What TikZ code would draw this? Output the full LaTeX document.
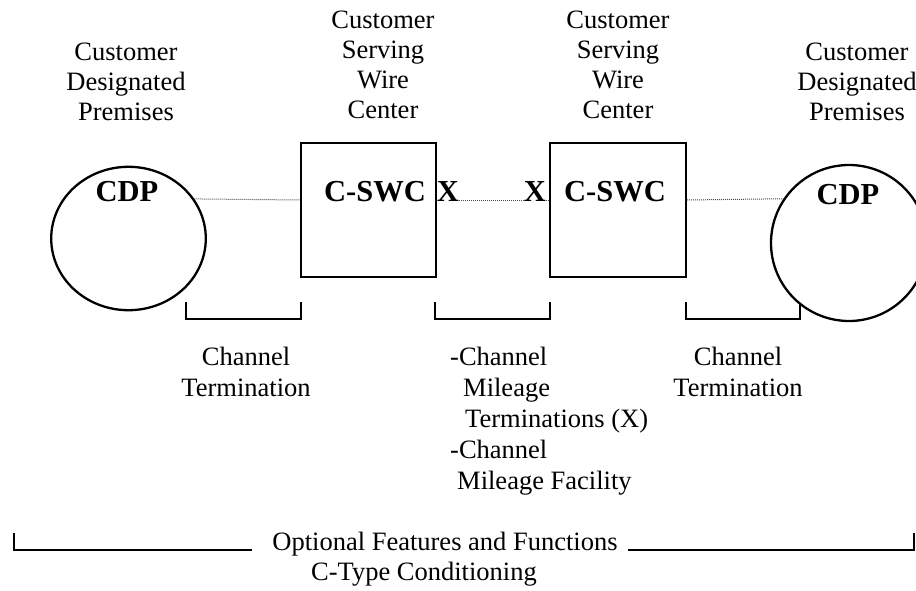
\documentclass[tikz,border=0pt]{standalone}
\usepackage{fontspec}
\setmainfont{Liberation Serif}
\usetikzlibrary{shapes.geometric}

\tikzset{
  txt/.style={font=\fontsize{26.5}{30}\selectfont,align=center,inner sep=0},
  lbl/.style={font=\fontsize{26.5}{31}\selectfont,align=center,inner sep=0},
  tag/.style={font=\fontsize{30.5}{33}\selectfont\bfseries,inner sep=0},
  unit/.style={draw,line width=2.3pt,rectangle,minimum width=135pt,minimum height=134pt,inner sep=0},
  brk/.style={line width=2.3pt},
  link/.style={densely dotted,line width=1pt,black!70}
}

\begin{document}
\begin{tikzpicture}[x=1pt,y=-1pt]
  \useasboundingbox (0,0) rectangle (916,591);
  \clip (0,0) rectangle (916,591);

  %premises and wire centers
  \node[draw,ellipse,line width=2.3pt,minimum width=154.6pt,minimum height=143.4pt,inner sep=0] (lcdp) at (128.5,238.5) {};
  \node[unit] (lswc) at (368.5,210) {};
  \node[unit,minimum width=136pt] (rswc) at (618,210) {};
  \node[draw,circle,line width=2.3pt,minimum size=156pt,inner sep=0] (rcdp) at (849,243) {};

  \node[tag] (lcdptag) at (127,192) {CDP};
  \node[tag] (lswctag) at (375,192) {C-SWC};
  \node[tag] (xa) at (448,192) {X};
  \node[tag] (xb) at (535,192) {X};
  \node[tag] (rswctag) at (615,192) {C-SWC};
  \node[tag] (rcdptag) at (848,195) {CDP};

  %top labels
  \node[txt] (lcdplbl) at (126,82) {Customer\\Designated\\Premises};
  \node[txt] (lswclbl) at (383,65) {Customer\\Serving\\Wire\\Center};
  \node[txt] (rswclbl) at (618,65) {Customer\\Serving\\Wire\\Center};
  \node[txt] (rcdplbl) at (857,82) {Customer\\Designated\\Premises};

  %channel
  \coordinate (wire) at (0,200);
  \draw[link] (lcdp.31) -- (wire -| lswc.west);
  \draw[link] (wire -| xa.east) -- (wire -| xb.west);
  \draw[link] (wire -| xb.east) -- (wire -| rswc.west);
  \draw[link] (wire -| rswc.east) -- (rcdp.146);

  %brackets
  \draw[brk] (186,302) -- (186,319) -- (301,319) -- (301,302);
  \draw[brk] (435,302) -- (435,319) -- (550,319) -- (550,302);
  \draw[brk] (686,302) -- (686,319) -- (800,319) -- (800,304);

  \node[lbl] (ltrm) at (246,372) {Channel\\Termination};
  \node[lbl,align=left,anchor=west] (mile) at (450,421) {-Channel\\\hspace*{13pt}Mileage\\\hspace*{15pt}Terminations (X)\\-Channel\\\hspace*{7pt}Mileage Facility};
  \node[lbl] (rtrm) at (738,372) {Channel\\Termination};

  %optional features
  \node[txt,anchor=base] (opt) at (445,550) {Optional Features and Functions};
  \node[txt] (cond) at (424,574) {C-Type Conditioning};
  \draw[brk] (14,533) |- (252,550);
  \draw[brk] (628,550) -| (914,533);
\end{tikzpicture}
\end{document}
